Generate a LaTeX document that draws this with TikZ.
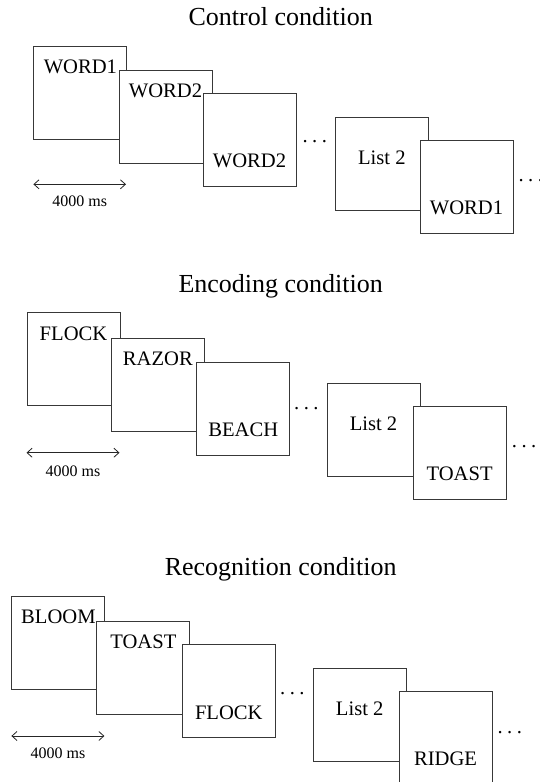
\documentclass[tikz,border=0pt]{standalone}
\usepackage{fontspec}
\setmainfont{Liberation Serif}
\usetikzlibrary{arrows.meta}
\tikzset{
  scr/.style={draw=black!78, fill=white, line width=1pt, minimum width=93pt, minimum height=93pt, anchor=north west, inner sep=0pt},
  word/.style={inner sep=0pt, font=\fontsize{20.6}{24}\selectfont},
  ttl/.style={inner sep=0pt, anchor=base, font=\fontsize{26}{30}\selectfont},
  ms/.style={inner sep=0pt, font=\fontsize{16}{19}\selectfont},
  dotsn/.style={inner sep=0pt, anchor=west, font=\fontsize{20.6}{24}\selectfont},
  dur/.style={draw=black!85, line width=0.8pt, {Straight Barb[length=5pt,width=9pt]}-{Straight Barb[length=5pt,width=9pt]}}
}
\newcommand{\threedots}{.\hspace{4.5pt}.\hspace{4.5pt}.}
\begin{document}
\begin{tikzpicture}[x=1pt,y=-1pt]
\useasboundingbox[fill=white] (0,0) rectangle (540,782);

% ---------------- Control condition ----------------
\node[ttl] (tc) at (280.7,25) {Control condition};
\node[scr] (c1) at (33.4,45.7) {};
\node[word] (wc1) at ([yshift=-21pt]c1.north) {WORD1};
\node[scr] (c2) at (118.5,70.3) {};
\node[word] (wc2) at ([yshift=-21pt]c2.north) {WORD2};
\node[scr] (c3) at (202.5,93.3) {};
\node[word] (wc3) at ([yshift=26pt]c3.south) {WORD2};
\node[dotsn] (dc1) at (302.4,142) {\threedots};
\node[scr] (c4) at (334.8,117.3) {};
\node[word] (wc4) at ([yshift=-40.6pt]c4.north) {List 2};
\node[scr] (c5) at (419.5,140.3) {};
\node[word] (wc5) at ([yshift=26pt]c5.south) {WORD1};
\node[dotsn] (dc2) at (518.4,180.5) {\threedots};
\coordinate (ac1) at (33.4,184.3);
\coordinate (ac2) at (126,184.3);
\draw[dur] (ac1) -- (ac2);
\node[ms] (mc) at (79.7,201) {4000 ms};

% ---------------- Encoding condition ----------------
\node[ttl] (te) at (280.7,292.7) {Encoding condition};
\node[scr] (e1) at (26.5,312.3) {};
\node[word] (we1) at ([yshift=-21pt]e1.north) {FLOCK};
\node[scr] (e2) at (110.9,337.7) {};
\node[word] (we2) at ([yshift=-21pt]e2.north) {RAZOR};
\node[scr] (e3) at (196.3,361.7) {};
\node[word] (we3) at ([yshift=26pt]e3.south) {BEACH};
\node[dotsn] (de1) at (294,408.3) {\threedots};
\node[scr] (e4) at (326.5,383.3) {};
\node[word] (we4) at ([yshift=-40.6pt]e4.north) {List 2};
\node[scr] (e5) at (412.6,406) {};
\node[word] (we5) at ([yshift=26pt]e5.south) {TOAST};
\node[dotsn] (de2) at (511.7,447) {\threedots};
\coordinate (ae1) at (26.5,452.7);
\coordinate (ae2) at (119.5,452.7);
\draw[dur] (ae1) -- (ae2);
\node[ms] (me) at (73,471.7) {4000 ms};

% ---------------- Recognition condition ----------------
\node[ttl] (tr) at (280.7,575) {Recognition condition};
\node[scr] (r1) at (11.4,596) {};
\node[word] (wr1) at ([yshift=-21pt]r1.north) {BLOOM};
\node[scr] (r2) at (96.4,620.7) {};
\node[word] (wr2) at ([yshift=-21pt]r2.north) {TOAST};
\node[scr] (r3) at (181.8,644.3) {};
\node[word] (wr3) at ([yshift=26pt]r3.south) {FLOCK};
\node[dotsn] (dr1) at (280,693.3) {\threedots};
\node[scr] (r4) at (312.7,667.7) {};
\node[word] (wr4) at ([yshift=-40.6pt]r4.north) {List 2};
\node[scr] (r5) at (398.5,690.7) {};
\node[word] (wr5) at ([yshift=26pt]r5.south) {RIDGE};
\node[dotsn] (dr2) at (497.4,732.5) {\threedots};
\coordinate (ar1) at (11.4,736);
\coordinate (ar2) at (104.4,736);
\draw[dur] (ar1) -- (ar2);
\node[ms] (mr) at (57.9,753.3) {4000 ms};
\end{tikzpicture}
\end{document}
